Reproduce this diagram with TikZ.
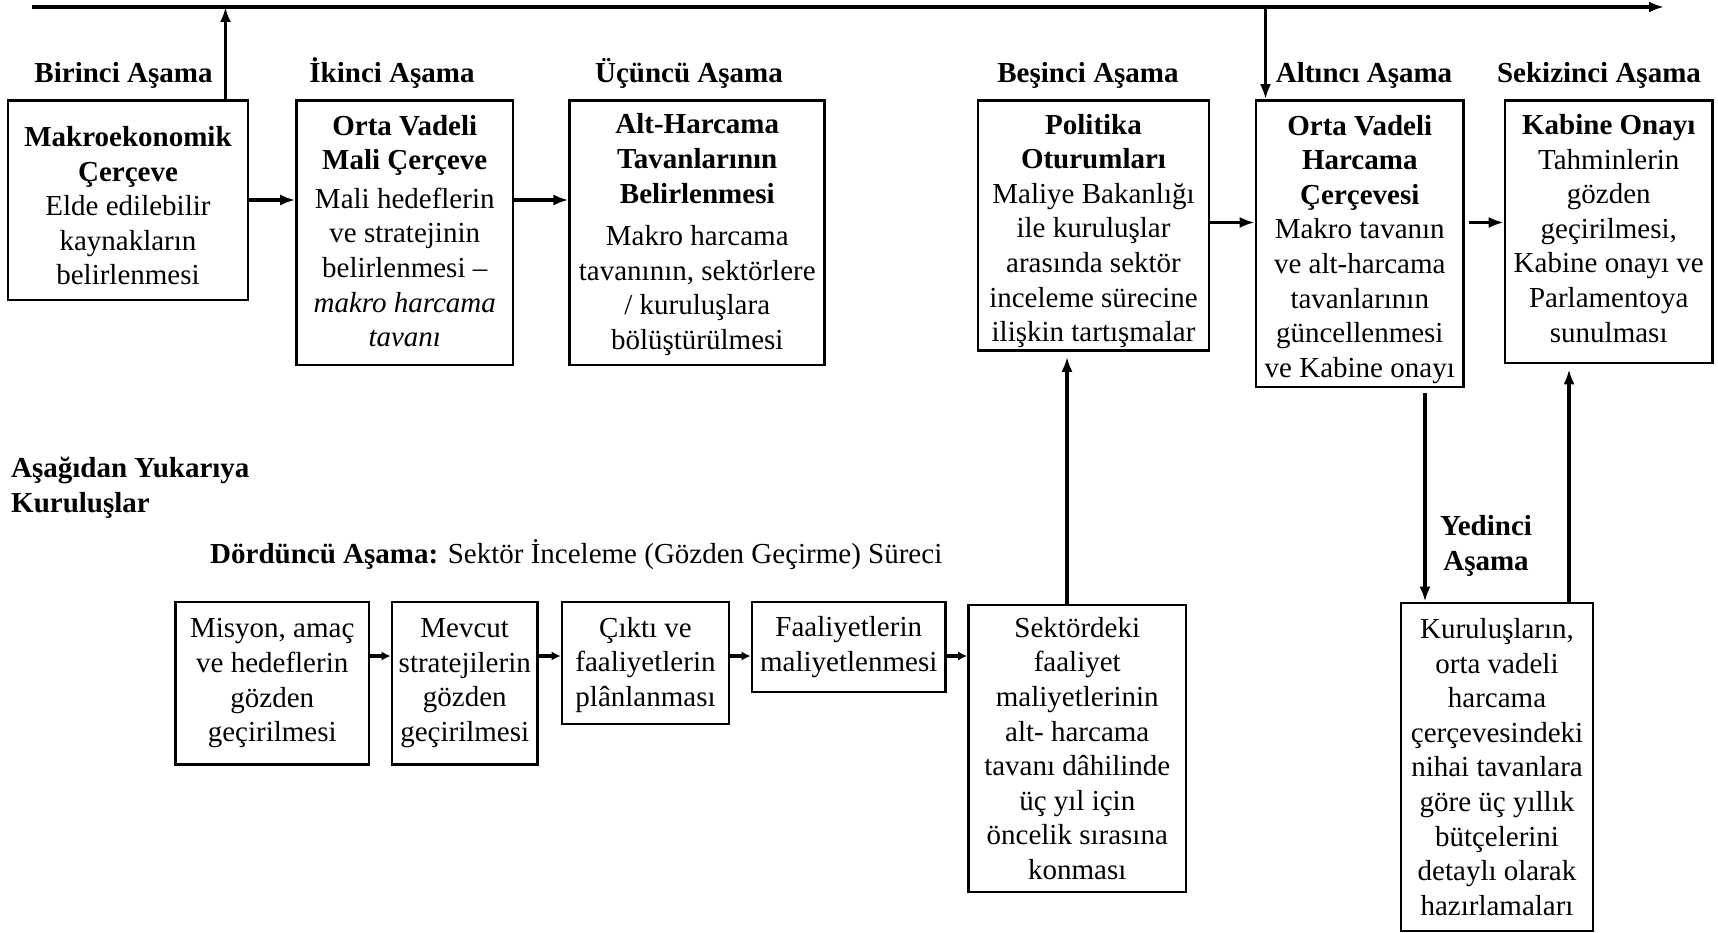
\documentclass[tikz,border=0pt]{standalone}
\usepackage{fontspec}
\setmainfont{Liberation Serif}
\usetikzlibrary{arrows.meta}
% raise the first line (pushes a centred block down) or deepen the last one (pushes it up)
\newcommand\toppad[1]{\rule{0pt}{#1}}
\newcommand\botpad[1]{\rule[-#1]{0pt}{0pt}}
\begin{document}
\begin{tikzpicture}[x=1pt,y=-1pt,
  txt/.style={font=\fontsize{29}{34.6}\selectfont},
  box/.style={draw, line width=2.6pt, align=center, inner sep=0pt, txt},
  stage/.style={font=\fontsize{29}{34.6}\selectfont\bfseries, anchor=base, inner sep=0pt},
  lbl/.style={font=\fontsize{29}{34.6}\selectfont\bfseries, inner sep=0pt},
  arr/.style={line width=3.1pt, -{Latex[length=15pt,width=11pt]}},
  sarr/.style={line width=3.1pt, -{Latex[length=9pt,width=9pt]}},
]
\useasboundingbox (0,0) rectangle (1718,933);

% timeline across the top
\coordinate (lineL) at (32,7);
\coordinate (lineR) at (1664,7);
\draw[arr] (lineL) -- (lineR);

% stage titles
\node[stage] (s1) at (123.5,83) {Birinci Aşama};
\node[stage] (s2) at (392,83) {İkinci Aşama};
\node[stage] (s3) at (689,83) {Üçüncü Aşama};
\node[stage] (s5) at (1088,83) {Beşinci Aşama};
\node[stage] (s6) at (1364,83) {Altıncı Aşama};
\node[stage] (s8) at (1599,83) {Sekizinci Aşama};

% upper row of boxes
\node[box, minimum width=240pt, minimum height=199.5pt] (b1) at (128,200.25)
  {\toppad{31pt}\textbf{Makroekonomik}\\\textbf{Çerçeve}\\Elde edilebilir\\kaynakların\\belirlenmesi};
\node[box, minimum width=216.5pt, minimum height=264.5pt] (b2) at (404.75,232.75)
  {\textbf{Orta Vadeli}\\\textbf{Mali Çerçeve}\\[4pt]Mali hedeflerin\\ve stratejinin\\belirlenmesi –\\\textit{makro harcama}\\\textit{tavanı}\botpad{4pt}};
\node[box, minimum width=255pt, minimum height=264.5pt] (b3) at (697.25,232.75)
  {\toppad{24pt}\textbf{Alt-Harcama}\\\textbf{Tavanlarının}\\\textbf{Belirlenmesi}\\[8pt]Makro harcama\\tavanının, sektörlere\\/ kuruluşlara\\bölüştürülmesi};
\node[box, minimum width=231pt, minimum height=250pt] (b5) at (1093.5,225.5)
  {\toppad{31pt}\textbf{Politika}\\\textbf{Oturumları}\\Maliye Bakanlığı\\ile kuruluşlar\\arasında sektör\\inceleme sürecine\\ilişkin tartışmalar};
\node[box, minimum width=207.5pt, minimum height=286.5pt] (b6) at (1359.75,243.75)
  {\toppad{31pt}\textbf{Orta Vadeli}\\\textbf{Harcama}\\\textbf{Çerçevesi}\\Makro tavanın\\ve alt-harcama\\tavanlarının\\güncellenmesi\\ve Kabine onayı};
\node[box, minimum width=207.5pt, minimum height=262.5pt] (b8) at (1608.75,231.75)
  {\textbf{Kabine Onayı}\\Tahminlerin\\gözden\\geçirilmesi,\\Kabine onayı ve\\Parlamentoya\\sunulması\botpad{7pt}};

% side titles
\node[lbl, anchor=north west, align=left] (bu) at (11,457) {Aşağıdan Yukarıya\\Kuruluşlar};
\node[txt, anchor=base west, inner sep=0pt] (s4) at (210,563) {\textbf{Dördüncü Aşama:} Sektör İnceleme (Gözden Geçirme) Süreci};
\node[lbl, anchor=north, align=center] (s7) at (1486,515.5) {Yedinci\\Aşama};

% lower row of boxes
\node[box, minimum width=193.5pt, minimum height=162.5pt] (c1) at (272.25,683.25)
  {Misyon, amaç\\ve hedeflerin\\gözden\\geçirilmesi};
\node[box, minimum width=145.5pt, minimum height=162.5pt] (c2) at (464.75,683.25)
  {Mevcut\\stratejilerin\\gözden\\geçirilmesi};
\node[box, minimum width=167pt, minimum height=122pt] (c3) at (645.5,663)
  {\toppad{24pt}Çıktı ve\\faaliyetlerin\\plânlanması};
\node[box, minimum width=193.5pt, minimum height=90pt] (c4) at (848.75,647)
  {Faaliyetlerin\\maliyetlenmesi};
\node[box, minimum width=217.5pt, minimum height=287pt] (c5) at (1077.25,748.5)
  {Sektördeki\\faaliyet\\maliyetlerinin\\alt- harcama\\tavanı dâhilinde\\üç yıl için\\öncelik sırasına\\konması};
\node[box, minimum width=192pt, minimum height=328pt] (c7) at (1497,767)
  {Kuruluşların,\\orta vadeli\\harcama\\çerçevesindeki\\nihai tavanlara\\göre üç yıllık\\bütçelerini\\detaylı olarak\\hazırlamaları};

% connector rails
\coordinate (up1) at (225.5,7);
\coordinate (dn6) at (1265.5,7);
\coordinate (hA) at (0,200);
\coordinate (hB) at (0,222.5);
\coordinate (hC) at (0,656);
\coordinate (v5) at (1067,0);
\coordinate (v7) at (1425,0);
\coordinate (v8) at (1569,0);

% upper flow
\draw[arr] (b1.north -| up1) -- (up1);
\draw[arr] (dn6) -- (dn6 |- b6.north);
\draw[arr] (b1.east |- hA) -- (b2.west |- hA);
\draw[arr] (b2.east |- hA) -- (b3.west |- hA);
\draw[arr] (b5.east |- hB) -- (b6.west |- hB);
\draw[arr, shorten <=4pt] (b6.east |- hB) -- (b8.west |- hB);

% lower flow
\draw[sarr] (c1.east |- hC) -- (c2.west |- hC);
\draw[sarr] (c2.east |- hC) -- (c3.west |- hC);
\draw[sarr] (c3.east |- hC) -- (c4.west |- hC);
\draw[sarr] (c4.east |- hC) -- (c5.west |- hC);

% vertical links
\draw[arr, shorten >=5pt] (c5.north -| v5) -- (b5.south -| v5);
\draw[arr, shorten <=5pt] (b6.south -| v7) -- (c7.north -| v7);
\draw[arr, shorten >=5pt] (c7.north -| v8) -- (b8.south -| v8);
\end{tikzpicture}
\end{document}
